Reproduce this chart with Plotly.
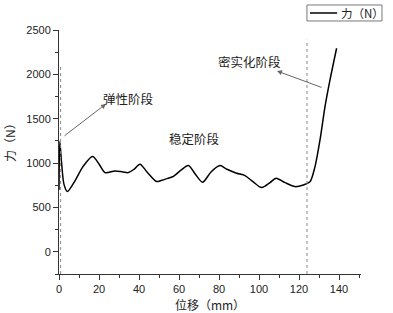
import plotly.graph_objects as go

# Displacement (mm) and force (N)
displacement = [0, 0.4, 1.3, 2.5, 4.2, 8, 12, 16.8, 20, 23, 28, 32, 34.7, 37.5, 40.5, 44,
                48.8, 51, 54.7, 57.2, 61, 64.7, 68, 71.8, 76, 80.5, 84, 88.8, 93, 97,
                101.3, 105.5, 108.5, 113, 118, 122.2, 125.5, 128, 130.5, 133, 135.5, 138.8]
force = [700, 1242, 1000, 760, 679, 800, 960, 1073, 990, 893, 912, 900, 893, 930, 988, 900,
         792, 803, 830, 850, 920, 972, 880, 785, 900, 972, 930, 886, 859, 790,
         724, 780, 830, 780, 735, 754, 790, 960, 1261, 1636, 1937, 2294]

x_ticks = [0, 20, 40, 60, 80, 100, 120, 140]
y_ticks = [0, 500, 1000, 1500, 2000, 2500]

# phase boundary lines (x, top y)
boundary_x = [0.8, 124]
boundary_top = [2100, 2390]

series_name = "力（N）"
x_title = "位移（mm）"
y_title = "力（N）"

# labels: text, x, y
labels = [("弹性阶段", 34.5, 1723), ("稳定阶段", 67.7, 1272), ("密实化阶段", 95, 2140)]
# arrows: head x, head y, tail x, tail y
arrows = [(23.5, 1667, 2, 1295), (109, 2038, 132, 1847)]

fig = go.Figure()
fig.add_trace(go.Scatter(x=displacement, y=force, mode="lines", name=series_name,
                         showlegend=False,
                         line=dict(color="black", width=1.5, shape="spline", smoothing=0.8)))

for bx, bt in zip(boundary_x, boundary_top):
    fig.add_shape(type="line", x0=bx, x1=bx, y0=-250, y1=bt, xref="x", yref="y",
                  line=dict(color="#888888", width=1, dash="dot"))

cjk = "Noto Sans CJK SC"
for t, lx, ly in labels:
    fig.add_annotation(x=lx, y=ly, text=t, showarrow=False,
                       font=dict(family=cjk, size=12.5, color="#222222"))
for hx, hy, tx, ty in arrows:
    fig.add_annotation(x=hx, y=hy, ax=tx, ay=ty, axref="x", ayref="y", xref="x", yref="y",
                       text="", showarrow=True, arrowhead=2, arrowsize=1, arrowwidth=1,
                       arrowcolor="#666666")

# legend box (drawn in paper coordinates)
fig.add_shape(type="rect", xref="paper", yref="paper", x0=0.821, x1=1.0695, y0=1.037, y1=1.1025,
              line=dict(color="#777777", width=1), fillcolor="white")
fig.add_shape(type="line", xref="paper", yref="paper", x0=0.831, x1=0.921, y0=1.0697, y1=1.0697,
              line=dict(color="black", width=1.5))
fig.add_annotation(xref="paper", yref="paper", x=0.928, y=1.0697, xanchor="left", yanchor="middle",
                   text=series_name, showarrow=False,
                   font=dict(family=cjk, size=11.5, color="#222222"))

# y-axis title
fig.add_annotation(xref="paper", yref="paper", x=-0.162, y=0.55, textangle=-90,
                   xanchor="center", yanchor="middle",
                   text=y_title, showarrow=False,
                   font=dict(family=cjk, size=12, color="#222222"))

axis_common = dict(showline=True, linecolor="#333333", linewidth=1, ticks="outside",
                   ticklen=5, tickcolor="#333333", showgrid=False, zeroline=False,
                   automargin=False,
                   tickfont=dict(family="Liberation Sans", size=11, color="#222222"),
                   minor=dict(ticks="outside", ticklen=3, tickcolor="#333333"))

fig.update_layout(
    width=393, height=313,
    margin=dict(l=59, r=32, t=30, b=39, autoexpand=False),
    plot_bgcolor="white", paper_bgcolor="white",
    xaxis=dict(range=[0, 151], tickvals=x_ticks, title=dict(text=x_title, standoff=10,
               font=dict(family=cjk, size=12, color="#222222")), **axis_common),
    yaxis=dict(range=[-250, 2500], tickvals=y_ticks, **axis_common),
    showlegend=False,
)
fig.update_xaxes(minor=dict(dtick=10, tick0=0))
fig.update_yaxes(minor=dict(dtick=250, tick0=0))

fig.write_html("out.html", config={"displayModeBar": False},
               post_script="document.body.style.margin='0';document.body.style.padding='0';")
